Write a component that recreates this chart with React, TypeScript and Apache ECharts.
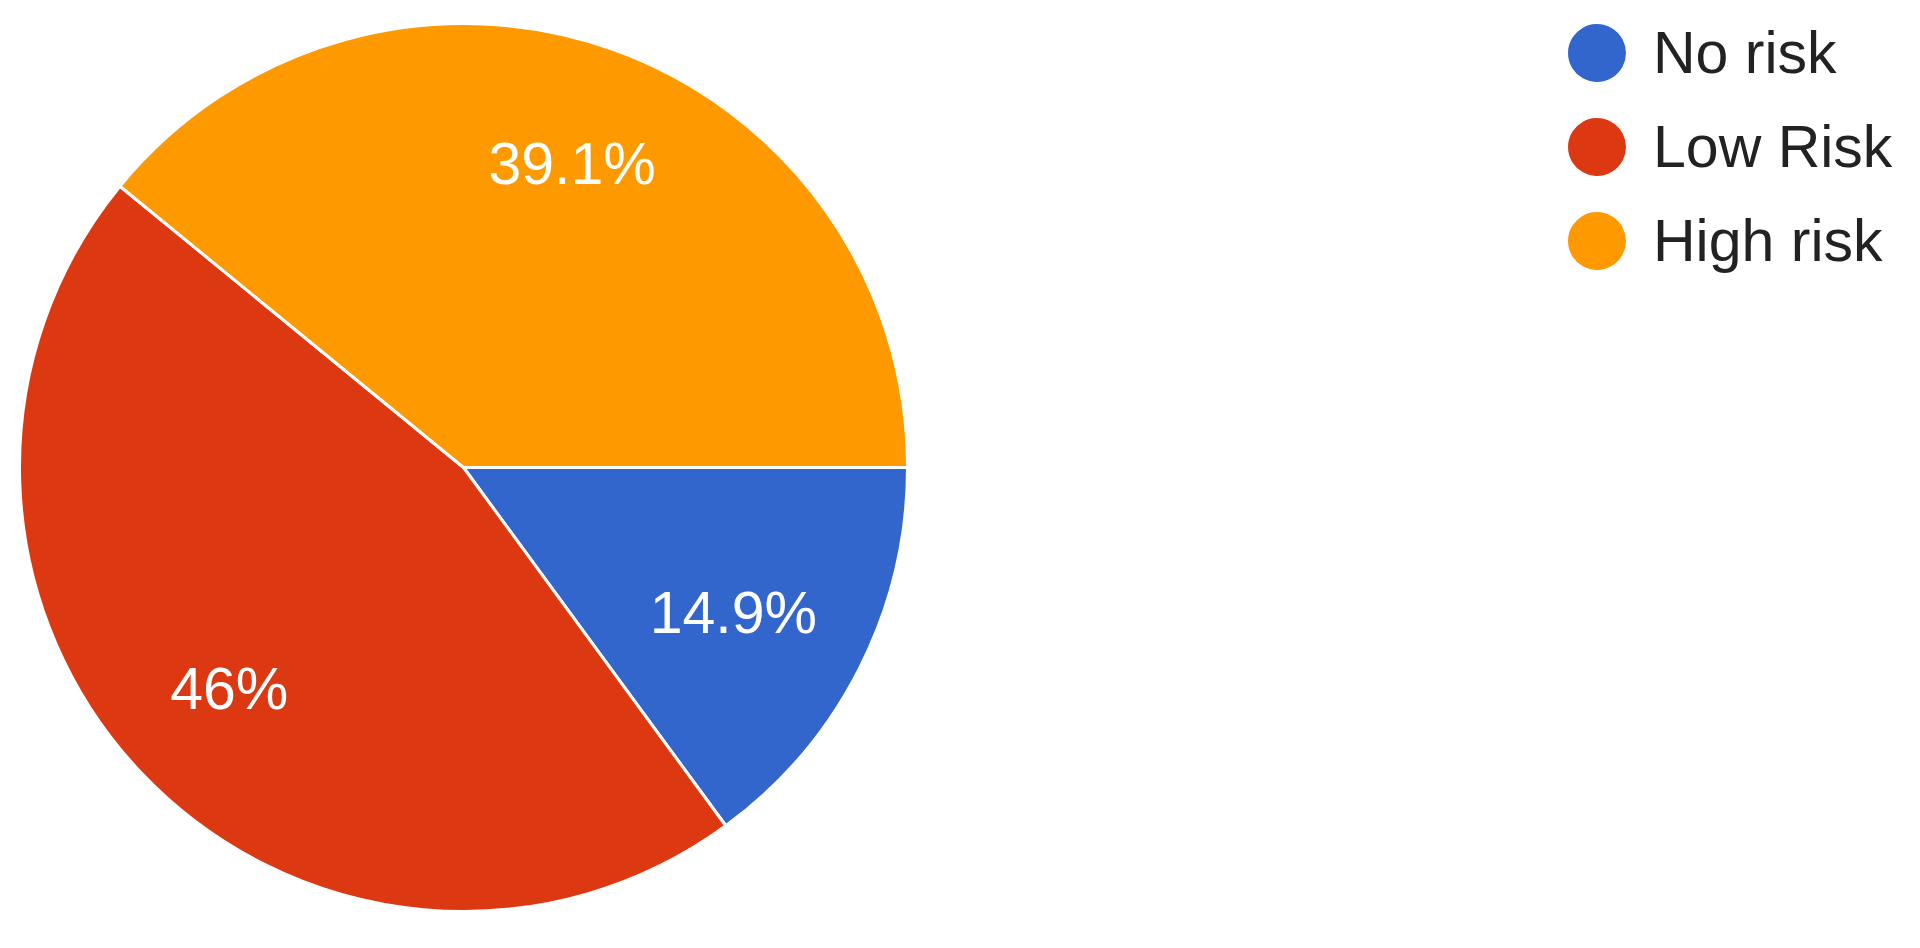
import React, { useEffect, useRef } from "react";
import * as echarts from "echarts";

const categories = ["No risk", "Low Risk", "High risk"];
const counts = [13, 40, 34];
const colors = ["#3366CC", "#DC3912", "#FF9900"];

export default function App() {
  const ref = useRef<HTMLDivElement>(null);
  useEffect(() => {
    document.body.style.margin = "0";
    const chart = echarts.init(ref.current!, null, { renderer: "svg" });
    const R = 444;
    const center = [463.5, 467.5];
    const data = categories.map((name, i) => ({ name, value: counts[i] }));
    chart.setOption({
      animation: false,
      backgroundColor: "#ffffff",
      legend: {
        orient: "vertical",
        left: 1561,
        top: 17,
        icon: "circle",
        itemWidth: 60,
        itemHeight: 60,
        itemGap: 32,
        selectedMode: false,
        data: categories.map((name, i) => ({ name, itemStyle: { color: colors[i] } })),
        textStyle: {
          fontFamily: "Liberation Sans, Arial, sans-serif",
          fontSize: 59,
          lineHeight: 60,
          color: "#222222",
          padding: [0, 0, 0, 21],
        },
      },
      series: [
        {
          type: "pie",
          center,
          radius: R,
          startAngle: 0,
          clockwise: true,
          silent: true,
          percentPrecision: 1,
          label: { show: false },
          labelLine: { show: false },
          itemStyle: { borderColor: "#ffffff", borderWidth: 3 },
          data: data.map((d, i) => ({ ...d, itemStyle: { color: colors[i] } })),
        },
        {
          type: "pie",
          center,
          radius: [R * 0.44, R],
          startAngle: 0,
          clockwise: true,
          silent: true,
          percentPrecision: 1,
          itemStyle: { color: "transparent", borderWidth: 0 },
          label: {
            show: true,
            position: "inside",
            color: "#ffffff",
            fontFamily: "Liberation Sans, Arial, sans-serif",
            fontSize: 59,
            formatter: (p: any) => p.percent + "%",
          },
          labelLine: { show: false },
          data: data.map((d, i) =>
            i === 0 ? { ...d, label: { padding: [0, 36, 40, 0] } } : d
          ),
        },
      ],
    });
    return () => chart.dispose();
  }, []);
  return <div ref={ref} style={{ width: 1920, height: 948 }} />;
}
